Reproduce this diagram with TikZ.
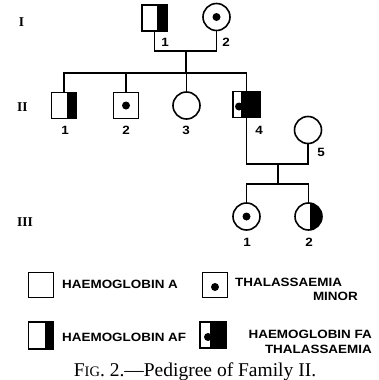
\documentclass[tikz,border=0pt]{standalone}
\usepackage{fontspec}
\setmainfont{Liberation Serif}
\newfontfamily\lgfont[FakeStretch=1.12]{Liberation Sans Bold}
\usetikzlibrary{calc}

\tikzset{
  link/.style={line width=1.6pt},
  person/.style={draw, line width=1.6pt, inner sep=0pt, outer sep=0pt},
  male/.style={person, rectangle, minimum width=25pt, minimum height=26pt},
  female/.style={person, circle, minimum size=27pt},
  legendbox/.style={person, rectangle, minimum width=25pt, minimum height=25pt},
  % right part of a symbol filled black (width given)
  blackright/.style={path picture={\fill ([xshift=-#1]path picture bounding box.north east)
      rectangle (path picture bounding box.south east);}},
  % black dot in the middle of a symbol
  centredot/.style={path picture={\fill ([yshift=#1]path picture bounding box.center) circle (4pt);}},
  centredot/.default=0pt,
  % black right part with a dot on its left border
  blackdot/.style={path picture={\fill ([xshift=-#1]path picture bounding box.north east)
      rectangle (path picture bounding box.south east);
      \fill ([xshift=-#1-2pt,yshift=-2pt]path picture bounding box.east) circle (4pt);}},
  num/.style={font=\lgfont\fontsize{12}{12}\selectfont, inner sep=0pt},
  gen/.style={font=\fontsize{13.5}{13.5}\selectfont\bfseries, inner sep=0pt},
  lgtext/.style={font=\lgfont\fontsize{12}{12}\selectfont, inner sep=0pt},
}

\begin{document}
\begin{tikzpicture}[x=1pt,y=-1pt]
\useasboundingbox (0,0) rectangle (379,380);

% generation numerals
\node[gen] (gI)   at (21.5,22)  {I};
\node[gen] (gII)  at (22.5,107.5) {II};
\node[gen] (gIII) at (25,222) {III};

% generation I
\node[male, blackright=10pt] (I1) at (154.5,18) {};
\node[female, centredot] (I2) at (216.5,17) {};
\node[num] (nI1) at (165,42) {1};
\node[num] (nI2) at (226,42) {2};

% generation II
\node[male, blackright=10pt] (II1) at (64,105.5) {};
\node[male, centredot] (II2) at (126,105.5) {};
\node[female] (II3) at (186.5,105.5) {};
\node[male, minimum width=27pt, blackdot=19pt] (II4) at (246.5,104.5) {};
\node[female] (II5) at (308,130) {};
\node[num] (nII1) at (65,130)  {1};
\node[num] (nII2) at (126,130) {2};
\node[num] (nII3) at (186,130) {3};
\node[num] (nII4) at (259,130) {4};
\node[num] (nII5) at (321,152) {5};

% generation III
\node[female, centredot] (III1) at (246.5,216.5) {};
\node[female, path picture={\fill ([xshift=1.5pt]path picture bounding box.north)
    rectangle (path picture bounding box.south east);}] (III2) at (308.5,216.5) {};
\node[num] (nIII1) at (247,242) {1};
\node[num] (nIII2) at (309,242) {2};

% marriage and sibship lines
\coordinate (m1) at (186,51);
\coordinate (s1) at (186,73);
\draw[link] (I1.south) |- (m1) -| (I2.south);
\draw[link] (m1) -- (s1);
\draw[link] (II1.north) |- (II4.north |- s1) -- (II4.north);
\draw[link] (II2.north) -- (II2.north |- s1);
\draw[link] (II3.north) -- (II3.north |- s1);

\coordinate (m2) at (278,164);
\coordinate (s2) at (278,184);
\draw[link] (II4.south) |- (m2) -| (II5.south);
\draw[link] (m2) -- (s2);
\draw[link] (III1.north) |- (III2.north |- s2) -- (III2.north);

% key
\node[legendbox] (kA) at (41,285) {};
\node[lgtext, anchor=west] (tA) at (62,284) {HAEMOGLOBIN A};
\node[legendbox, centredot=-2pt] (kT) at (215,285) {};
\node[lgtext, anchor=west] (tT1) at (235,282) {THALASSAEMIA};
\node[lgtext, anchor=east] (tT2) at (358,296) {MINOR};
\node[legendbox, minimum height=27pt, blackright=9pt] (kAF) at (41,335.5) {};
\node[lgtext, anchor=west] (tAF) at (62,337) {HAEMOGLOBIN AF};
\node[legendbox, minimum width=26pt, minimum height=26pt, blackdot=16pt] (kFA) at (213,335) {};
\node[lgtext, anchor=east] (tFA1) at (372,334) {HAEMOGLOBIN FA};
\node[lgtext, anchor=east] (tFA2) at (372,349) {THALASSAEMIA};

% caption
\node[anchor=base, inner sep=0pt, font=\fontsize{19.5}{19.5}\selectfont] (cap) at (195,376)
  {F{\fontsize{14.5}{14.5}\selectfont IG}. 2.—Pedigree of Family II.};
\end{tikzpicture}
\end{document}
